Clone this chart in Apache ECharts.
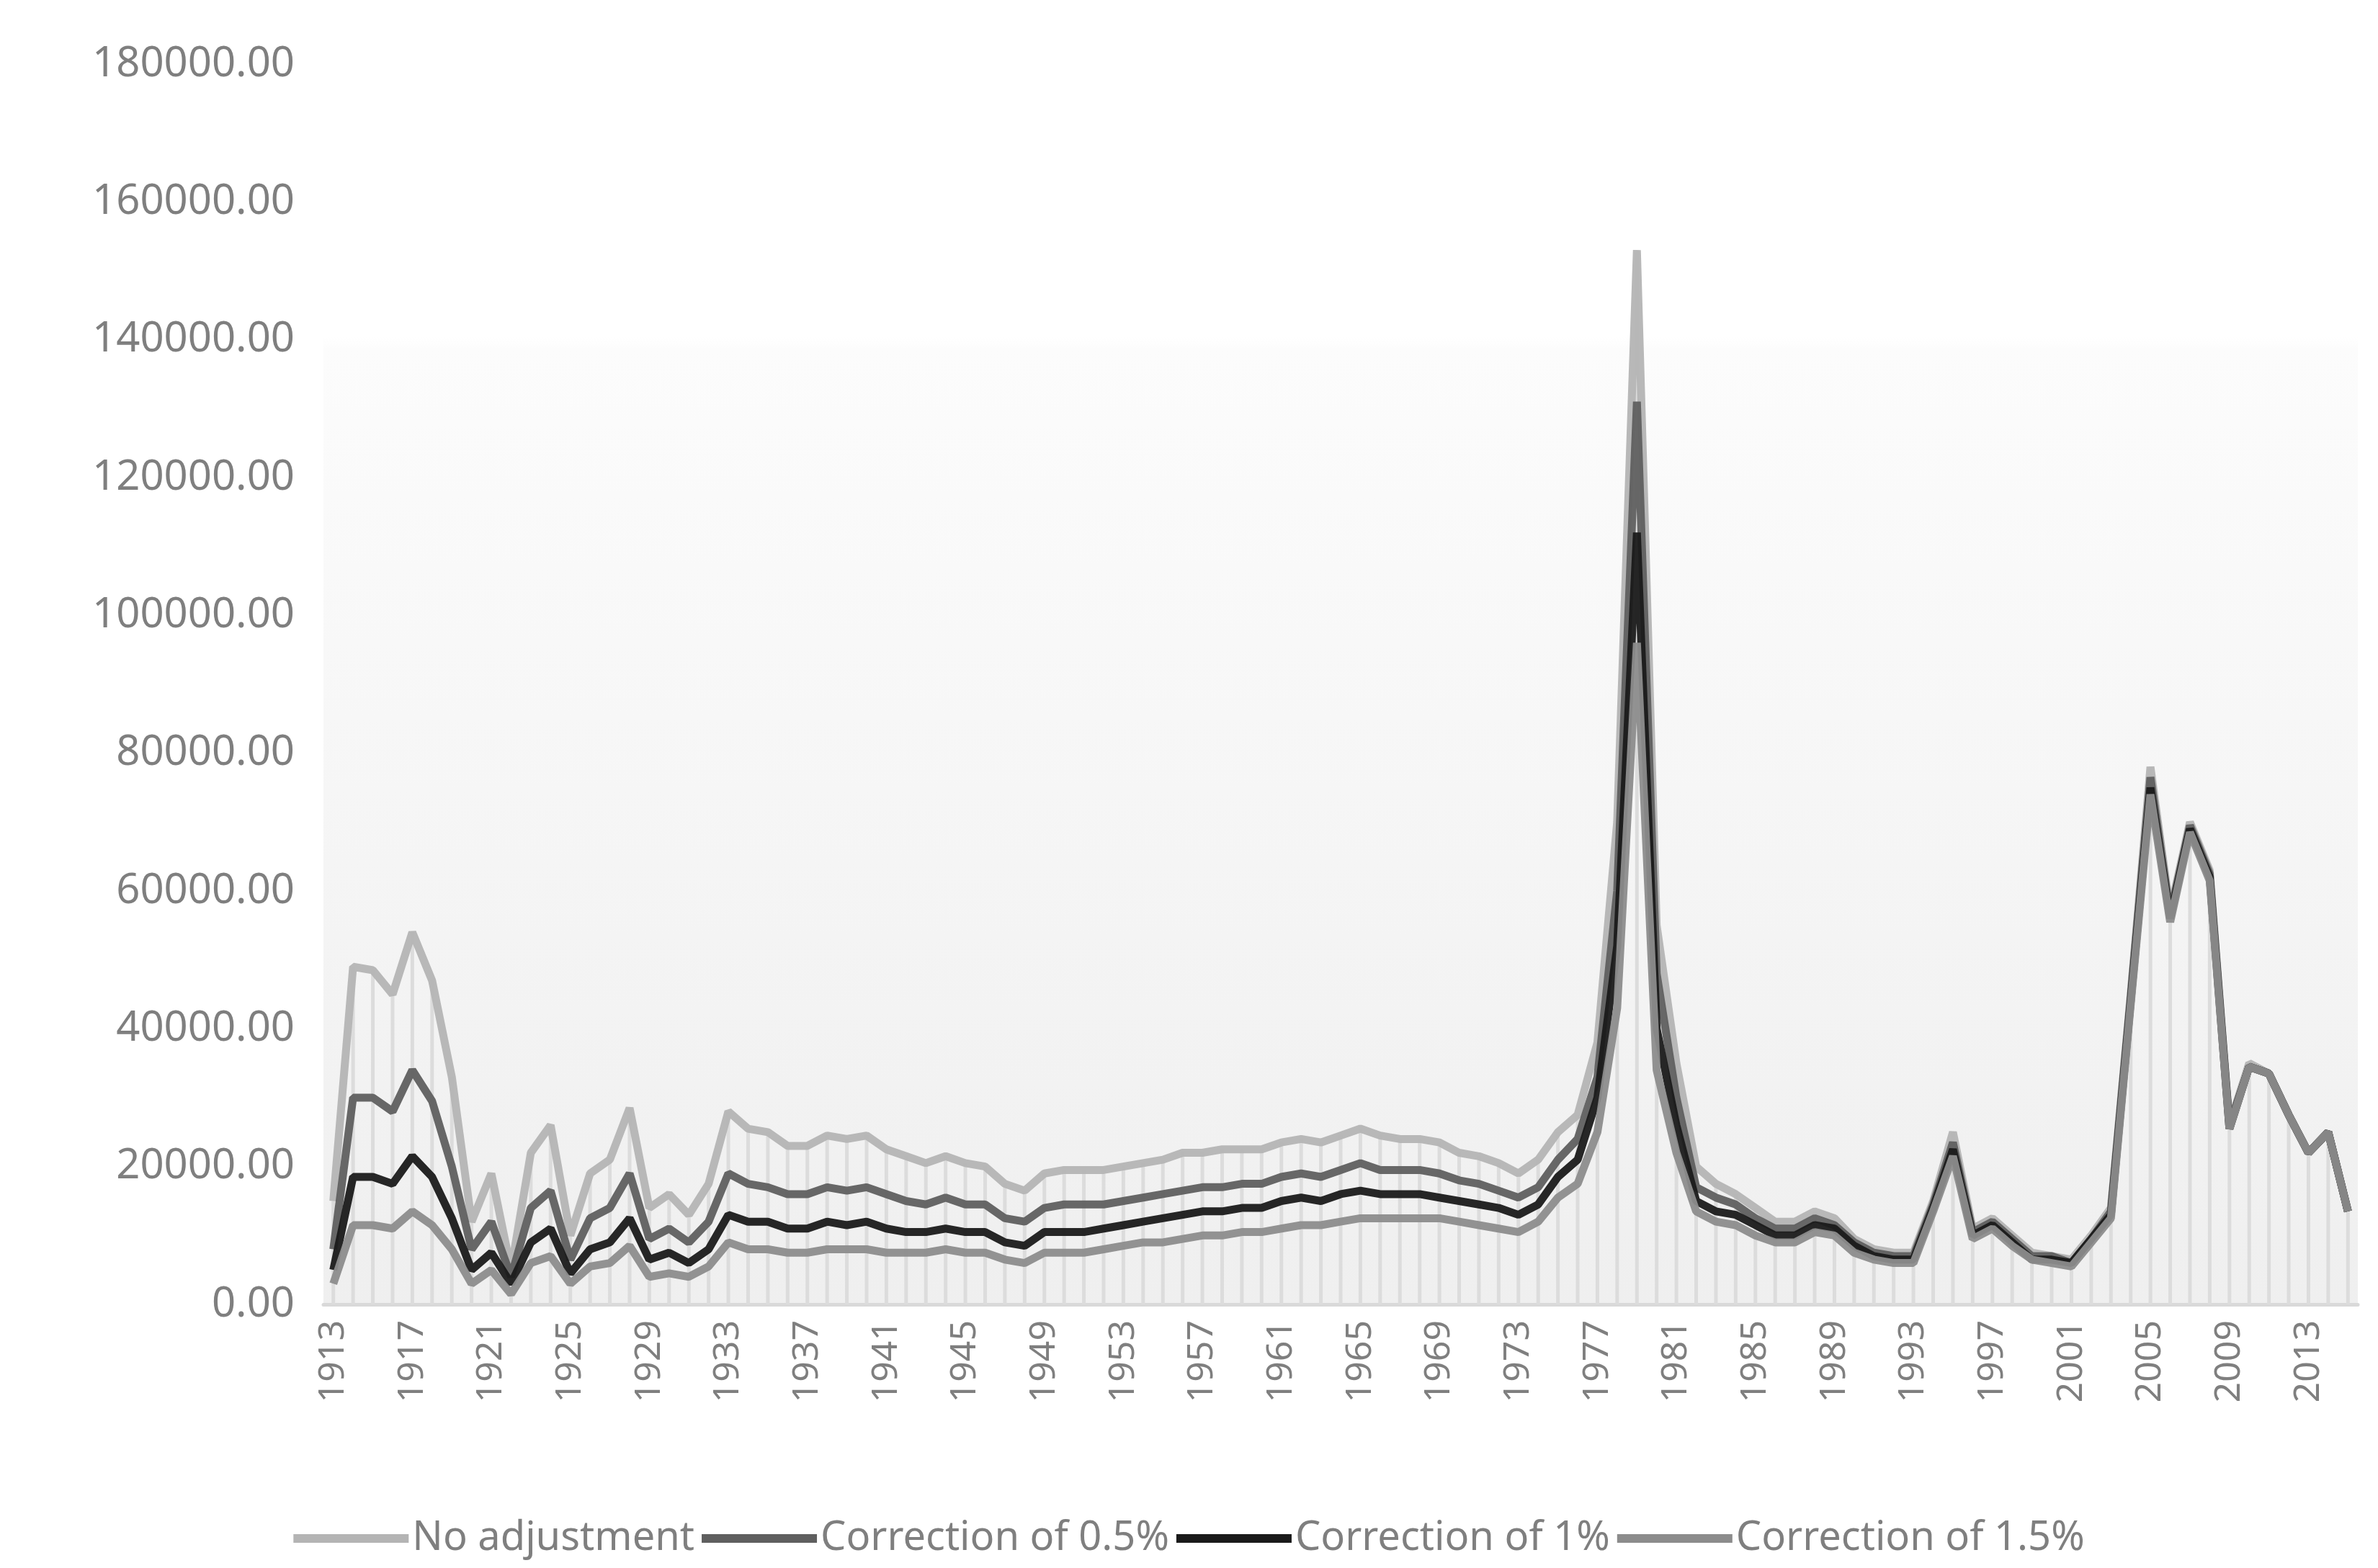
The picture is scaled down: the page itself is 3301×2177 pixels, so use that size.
<!DOCTYPE html>
<html><head><meta charset="utf-8">
<script src="https://cdn.jsdelivr.net/npm/echarts@6/dist/echarts.min.js"></script>
<style>html,body{margin:0;padding:0;background:#fff}#c{width:3301px;height:2177px}</style>
</head><body><div id="c"></div>
<script>
const years = [];
for (let y = 1913; y <= 2015; y++) years.push(String(y));
const noAdj = [15000,49000,48500,45000,54000,47000,33000,12000,19000,5000,22000,26000,10000,19000,21000,28500,14000,16000,13000,17500,28000,25500,25000,23000,23000,24500,24000,24500,22500,21500,20500,21500,20500,20000,17500,16500,19000,19500,19500,19500,20000,20500,21000,22000,22000,22500,22500,22500,23500,24000,23500,24500,25500,24500,24000,24000,23500,22000,21500,20500,19000,21000,25000,27500,38000,70000,153000,55000,35000,20000,17500,16000,14000,12000,12000,13500,12500,9500,8000,7500,7500,15000,25000,11000,12500,10000,7500,7000,6500,10000,14000,45000,78000,57000,70000,63000,26000,35000,33500,27500,22000,25000,13500];
const corr05 = [8000,30000,30000,28000,34000,29500,20000,8000,12000,4000,14000,16500,6500,12500,14000,19000,9500,11000,9000,12000,19000,17500,17000,16000,16000,17000,16500,17000,16000,15000,14500,15500,14500,14500,12500,12000,14000,14500,14500,14500,15000,15500,16000,16500,17000,17000,17500,17500,18500,19000,18500,19500,20500,19500,19500,19500,19000,18000,17500,16500,15500,17000,21000,24000,33000,60000,131000,48000,30000,17000,15500,14500,12500,11000,11000,12500,11500,9000,7500,7000,7000,14500,23500,10500,12000,9500,7000,7000,6000,9500,13500,44500,76500,56500,69500,62500,26000,34500,33500,27500,22000,25000,13500];
const corr1 = [5000,18500,18500,17500,21500,18500,12500,5000,7500,3000,9000,11000,4500,8000,9000,12500,6500,7500,6000,8000,13000,12000,12000,11000,11000,12000,11500,12000,11000,10500,10500,11000,10500,10500,9000,8500,10500,10500,10500,11000,11500,12000,12500,13000,13500,13500,14000,14000,15000,15500,15000,16000,16500,16000,16000,16000,15500,15000,14500,14000,13000,14500,18500,21000,30000,52000,112000,40000,26000,15000,13500,13000,11500,10000,10000,11500,11000,8500,7000,6500,6500,14000,22500,10000,11500,9000,6500,6500,6000,9500,13000,44000,75000,56000,69000,62000,25500,34500,33500,27500,22000,25000,13500];
const corr15 = [3000,11500,11500,11000,13500,11500,8000,3000,5000,1500,6000,7000,3000,5500,6000,8500,4000,4500,4000,5500,9000,8000,8000,7500,7500,8000,8000,8000,7500,7500,7500,8000,7500,7500,6500,6000,7500,7500,7500,8000,8500,9000,9000,9500,10000,10000,10500,10500,11000,11500,11500,12000,12500,12500,12500,12500,12500,12000,11500,11000,10500,12000,15500,17500,25000,43000,96000,34000,22000,13500,12000,11500,10000,9000,9000,10500,10000,7500,6500,6000,6000,13500,21500,9500,11000,8500,6500,6000,5500,9000,12500,43500,74000,55500,68500,61500,25500,34500,33500,27500,22000,25000,13500];
const names = ['No adjustment','Correction of 0.5%','Correction of 1%','Correction of 1.5%'];
const dropTop = noAdj.map((v,i)=>Math.max(v,corr05[i],corr1[i],corr15[i]));

const chart = echarts.init(document.getElementById('c'));
const font = 'Noto Sans';
const mk = (name, data, color, z) => ({name, type:'line', data, symbol:'none', z,
  lineStyle:{color, width:11, opacity:0.95}, itemStyle:{color}});
chart.setOption({
  animation:false,
  backgroundColor:'#fff',
  grid:{left:449, right:28, top:89, bottom:366, show:true, borderWidth:0,
    backgroundColor:new echarts.graphic.LinearGradient(0,0,0,1,[
      {offset:0,color:'#ffffff'},{offset:0.22,color:'#ffffff'},{offset:0.23,color:'#fcfcfc'},{offset:1,color:'#efefef'}])},
  legend:{data:names, bottom:8, left:'center', itemWidth:160, itemHeight:12, itemGap:10,
    icon:'rect', textStyle:{color:'#7f7f7f', fontSize:56, fontFamily:font}},
  xAxis:{type:'category', data:years, boundaryGap:true,
    axisLine:{lineStyle:{color:'#d9d9d9', width:5}}, axisTick:{show:false},
    axisLabel:{interval:3, rotate:90, color:'#7f7f7f', fontSize:50, fontFamily:font, margin:22}},
  yAxis:{type:'value', min:0, max:180000, interval:20000,
    axisLine:{show:false}, axisTick:{show:false}, splitLine:{show:false},
    axisLabel:{formatter:v=>v.toFixed(2), color:'#7f7f7f', fontSize:58, fontFamily:font, margin:40}},
  series:[
    {name:'drop', type:'bar', data:dropTop, barWidth:5, z:1, silent:true,
      itemStyle:{color:'#dcdcdc'}},
    mk(names[0], noAdj, '#b4b4b4', 2),
    mk(names[1], corr05, '#5f5f5f', 3),
    mk(names[2], corr1, '#1a1a1a', 4),
    mk(names[3], corr15, '#8c8c8c', 5)
  ]
});
</script></body></html>
